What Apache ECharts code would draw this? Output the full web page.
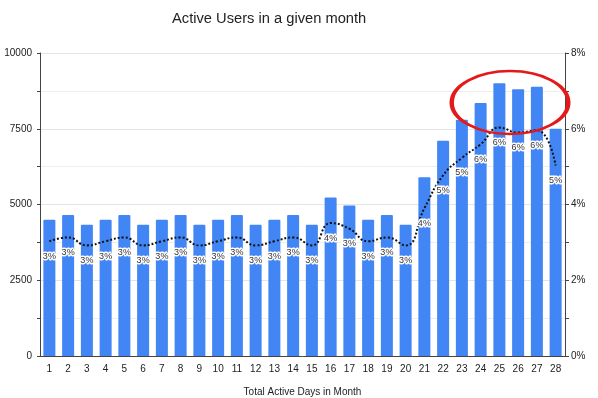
<!DOCTYPE html>
<html>
<head>
<meta charset="utf-8">
<script src="https://cdn.jsdelivr.net/npm/echarts@6/dist/echarts.min.js"></script>
<style>
html,body{margin:0;padding:0;background:#fff;}
#main{width:598px;height:398px;}
</style>
</head>
<body>
<div id="main"></div>
<script>
const days = ['1','2','3','4','5','6','7','8','9','10','11','12','13','14','15','16','17','18','19','20','21','22','23','24','25','26','27','28'];
const activeUsers = [4500,4650,4330,4500,4650,4330,4500,4650,4330,4500,4650,4330,4500,4650,4330,5230,4970,4500,4650,4330,5900,7100,7800,8350,9000,8800,8890,7500];
const pctUsers = [3.03,3.13,2.92,3.03,3.13,2.92,3.03,3.13,2.92,3.03,3.13,2.92,3.03,3.13,2.92,3.51,3.36,3.03,3.13,2.92,3.9,4.77,5.23,5.59,6.03,5.9,5.96,5.03];
const leftTicks = [0,2500,5000,7500,10000];
const rightTicks = [0,2,4,6,8];

const chart = echarts.init(document.getElementById('main'), null, {renderer:'canvas'});
const font = 'Liberation Sans, Arial, sans-serif';
chart.setOption({
  animation:false,
  backgroundColor:'#fff',
  title:{text:'Active Users in a given month', left:167, top:6,
    textStyle:{fontFamily:font, fontSize:14.7, fontWeight:'normal', color:'#222'}},
  grid:{left:40, right:33, top:53, bottom:42, containLabel:false, outerBoundsMode:'none'},
  xAxis:{type:'category', data:days,
    name:'Total Active Days in Month', nameLocation:'middle', nameGap:31,
    nameTextStyle:{fontFamily:font, fontSize:10, color:'#222'},
    axisLine:{lineStyle:{color:'#444', width:1}},
    axisTick:{alignWithLabel:true, length:4, lineStyle:{color:'#333'}},
    axisLabel:{fontFamily:font, fontSize:10, color:'#222', margin:8}},
  yAxis:[
    {type:'value', min:leftTicks[0], max:leftTicks[leftTicks.length-1], interval:2500,
     axisLine:{show:true, lineStyle:{color:'#444'}},
     axisTick:{show:true, length:3, lineStyle:{color:'#444'}},
     minorTick:{show:true, splitNumber:2, length:3, lineStyle:{color:'#444'}},
     splitLine:{lineStyle:{color:'#e4e4e4'}},
     minorSplitLine:{show:true, lineStyle:{color:'#eeeeee'}},
     axisLabel:{fontFamily:font, fontSize:10, color:'#222', margin:8, formatter:v => String(v)}},
    {type:'value', min:rightTicks[0], max:rightTicks[rightTicks.length-1], interval:2,
     axisLine:{show:true, lineStyle:{color:'#444'}},
     axisTick:{show:true, length:4, lineStyle:{color:'#444'}},
     minorTick:{show:true, splitNumber:2, length:4, lineStyle:{color:'#444'}},
     splitLine:{show:false},
     axisLabel:{fontFamily:font, fontSize:10, color:'#222', margin:6, formatter:'{value}%'}}
  ],
  series:[
    {type:'bar', data:activeUsers, yAxisIndex:0, barWidth:12,
     itemStyle:{color:'#4285f4', borderRadius:[1,1,0,0]}},
    {type:'line', data:pctUsers, yAxisIndex:1, smooth:true, symbol:'circle', symbolSize:1, showSymbol:true, z:5,
     itemStyle:{color:'rgba(0,0,0,0)'},
     lineStyle:{color:'#111', width:2, type:'dotted'},
     labelLayout:{hideOverlap:false},
     label:{show:true, position:'bottom', distance:10,
       formatter:p => Math.round(p.value) + '%',
       fontFamily:font, fontSize:9, color:'#333',
       textBorderColor:'#fff', textBorderWidth:3}}
  ],
  graphic:[
    {type:'circle', x:510, y:102.5, scaleX:58.3/31.5, scaleY:1, z:100,
     shape:{cx:0, cy:0, r:31.5},
     style:{fill:'none', stroke:'#e3191c', lineWidth:2.4, strokeNoScale:true}}
  ]
});
</script>
</body>
</html>
